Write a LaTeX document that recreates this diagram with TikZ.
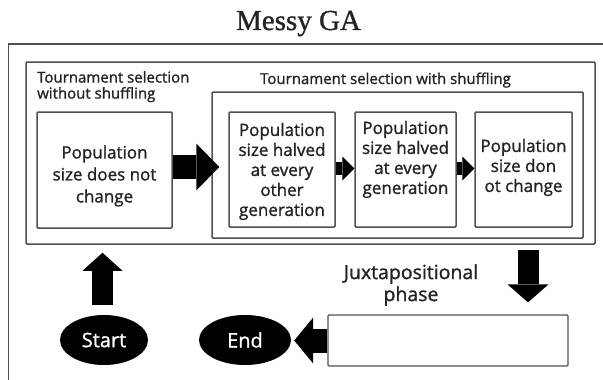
\documentclass[tikz,border=0pt]{standalone}
\usepackage{fontspec}
\setmainfont{Open Sans}[FakeBold=1.2]
\newfontfamily\titlefont{Liberation Serif}[FakeBold=1]
\usetikzlibrary{arrows.meta,shapes.geometric}
\definecolor{linegray}{RGB}{80,80,80}
\definecolor{inkgray}{RGB}{35,35,35}

\begin{document}
\begin{tikzpicture}[x=1pt,y=-1pt,
  frame/.style={draw=linegray, line width=1.6pt},
  box/.style={draw=linegray, line width=1.5pt, rounded corners=1pt,
    inner sep=0pt, fill=white},
  boxtext/.style={align=center, inner sep=0pt, text=inkgray,
    font=\fontsize{17}{20}\selectfont},
  headtext/.style={inner sep=0pt, text=inkgray,
    font=\fontsize{15}{16}\selectfont},
  terminal/.style={ellipse, fill=black, text=white, inner sep=0pt,
    font=\fontsize{20}{24}\selectfont},
  fatarrow/.style n args={3}{draw=black, line width=#1,
    -{Triangle[length=#3, width=#2, line width=0pt]}},
]
\useasboundingbox (0,0) rectangle (603,380);

% title and open outer frame
\node[anchor=base, inner sep=0pt, text=inkgray,
  font=\titlefont\fontsize{29}{34}\selectfont] (title) at (298.5,30) {Messy GA};
\draw[frame] (8.5,380) -- (8.5,44) -- (603,44);

% main loop box with its two selection stages
\node[box, minimum width=569pt, minimum height=182pt] (big) at (310.5,153) {};
\node[headtext, align=left, anchor=north west] (lblA) at (37,71)
  {Tournament selection\\without shuffling};
\node[headtext, anchor=base] (lblB) at (385.5,84)
  {Tournament selection with shuffling};
\node[box, minimum width=371pt, minimum height=146pt] (shuf) at (397.5,165) {};

\node[box, minimum width=135pt, minimum height=116pt] (b1) at (104.5,170) {};
\node[box, minimum width=106pt, minimum height=115pt] (b2) at (282,169.5) {};
\node[box, minimum width=101pt, minimum height=115pt] (b3) at (405.5,169.5) {};
\node[box, minimum width=97pt, minimum height=115pt] (b4) at (523.5,169.5) {};

\node[boxtext, font=\fontsize{17}{22}\selectfont] (t1) at ([yshift=-6pt]b1.center)
  {Population\\size does not\\change};
\node[boxtext] (t2) at ([yshift=-2pt]b2.center)
  {Population\\size halved\\at every\\other\\generation};
\node[boxtext] (t3) at ([yshift=10pt]b3.center)
  {Population\\size halved\\at every\\generation};
\node[boxtext] (t4) at ([yshift=2pt]b4.center)
  {Population\\size don\\ot change};

% stage-to-stage arrows
\draw[fatarrow={24pt}{47pt}{23pt}, shorten >=9pt]
  ([yshift=3pt]b1.east) -- ([yshift=3pt]b1.east -| b2.west);
\draw[fatarrow={13pt}{24pt}{12pt}] ([yshift=1pt]b2.east) -- ([yshift=1pt]b2.east -| b3.west);
\draw[fatarrow={13pt}{24pt}{12pt}] ([yshift=1pt]b3.east) -- ([yshift=1pt]b3.east -| b4.west);

% start / end and the juxtapositional phase
\node[terminal, minimum width=88pt, minimum height=50pt] (start) at (104,340) {Start};
\node[terminal, minimum width=92pt, minimum height=50pt] (end) at (245,340) {End};
\node[box, line width=1.3pt, minimum width=240pt, minimum height=51pt] (jbox) at (448,340.5) {};
\node[align=center, inner sep=0pt, text=inkgray,
  font=\fontsize{19.5}{22}\selectfont] (jlbl) at (411,285)
  {Juxtapositional\\phase};

\coordinate (dnx) at (528,244);
\draw[fatarrow={21pt}{40pt}{18pt}, shorten <=10pt, shorten >=8pt]
  ([xshift=-1.5pt]start.north) -- ([xshift=-1.5pt]start.north |- big.south);
\draw[fatarrow={21pt}{41pt}{18pt}, shorten <=6pt, shorten >=12pt]
  (dnx) -- (dnx |- jbox.north);
\draw[fatarrow={24pt}{46pt}{19pt}, shorten >=3pt]
  (jbox.west) -- (jbox.west -| end.east);
\end{tikzpicture}
\end{document}
